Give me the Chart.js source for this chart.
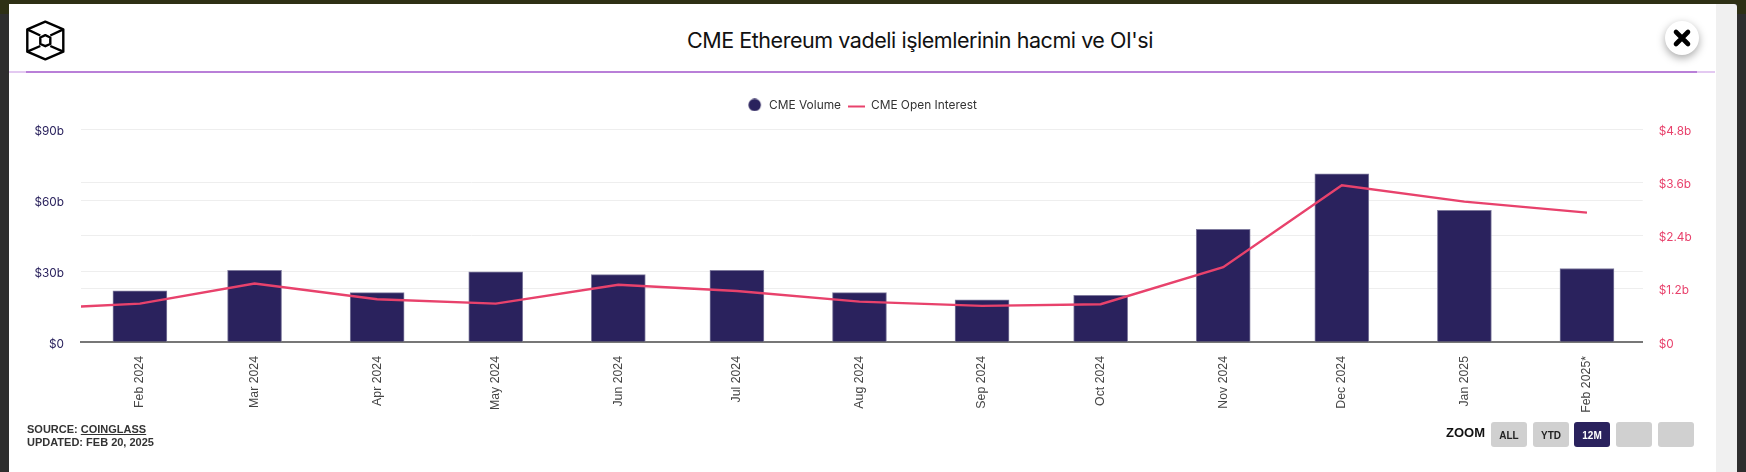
<!DOCTYPE html>
<html lang="tr">
<head>
<meta charset="utf-8">
<title>CME Ethereum</title>
<script src="https://cdn.jsdelivr.net/npm/chart.js@4"></script>
<style>
html,body{margin:0;padding:0;width:1746px;height:472px;overflow:hidden;background:#2e2e2e;font-family:"Liberation Sans",Arial,sans-serif}
.a{position:absolute}
#band{left:0;top:0;width:1746px;height:4px;background:#2e3015}
#bandL{left:0;top:4px;width:9px;height:10px;background:#2e3015}
#bandR{left:1737px;top:4px;width:9px;height:10px;background:#2e3015}
#panel{left:9px;top:4px;width:1707px;height:468px;background:#fff}
#scroll{left:1716px;top:4px;width:21px;height:468px;background:#f0f0f0;border-top-right-radius:3px}
#rule{left:26px;top:71px;width:1671px;height:2px;background:#b97fd8}
#ruleL{left:9px;top:71px;width:17px;height:2px;background:#e3c9f1}
#ruleR{left:1697px;top:71px;width:18px;height:2px;background:#e3c9f1}
#title{left:687px;top:25px;font:400 21.5px/30px Inter,sans-serif;letter-spacing:-.45px;color:#111;white-space:nowrap}
#logo{left:26px;top:20px}
#close{left:1665px;top:21px;width:34px;height:34px;border-radius:50%;background:#fff;box-shadow:0 3px 9px rgba(0,0,0,.35)}
#src{left:27px;top:423px;font:700 11px/13px "Liberation Sans",Arial,sans-serif;color:#333;white-space:nowrap}
#src u{text-decoration:underline}
#zoomL{left:1446px;top:425px;font:700 13px/16px "Liberation Sans",Arial,sans-serif;color:#111}
.btn{top:422px;width:36px;height:25px;border-radius:3px;background:#d0d0d0;color:#222;font:700 10px/27px "Liberation Sans",Arial,sans-serif;text-align:center}
.btn.on{background:#2a225d;color:#fff}
#c{left:0;top:0}
</style>
</head>
<body>
<div class="a" id="band"></div><div class="a" id="bandL"></div><div class="a" id="bandR"></div>
<div class="a" id="panel"></div><div class="a" id="scroll"></div>
<div class="a" id="rule"></div><div class="a" id="ruleL"></div><div class="a" id="ruleR"></div>
<div class="a" id="title">CME Ethereum vadeli işlemlerinin hacmi ve OI'si</div>
<svg class="a" id="logo" width="40" height="42" viewBox="0 0 40 42" fill="none" stroke="#000" stroke-width="2.4" stroke-linejoin="round">
<polygon points="19.3,1.7 37.3,9.3 37.3,31.7 19.3,39.3 1.3,31.7 1.3,9.3"/>
<polygon points="19.3,15.2 24.3,17.5 24.3,24 19.3,26.2 14.3,24 14.3,17.5"/>
<path d="M1.3 9.3L14.3 15.5M37.3 9.3L24.3 15.5M1.3 31.7L14.3 26M37.3 31.7L24.3 26"/>
</svg>
<canvas class="a" id="c" width="1746" height="472"></canvas>
<div class="a" id="close"><svg width="34" height="34" viewBox="0 0 34 34"><path d="M11 11L23 23M23 11L11 23" stroke="#000" stroke-width="4.6" stroke-linecap="round"/></svg></div>
<div class="a" id="src">SOURCE: <u>COINGLASS</u><br>UPDATED: FEB 20, 2025</div>
<div class="a" id="zoomL">ZOOM</div>
<div class="a btn" style="left:1491px">ALL</div>
<div class="a btn" style="left:1533px">YTD</div>
<div class="a btn on" style="left:1574px">12M</div>
<div class="a btn" style="left:1616px"></div>
<div class="a btn" style="left:1658px"></div>
<script>
const barMonths = ['2024-02-01','2024-03-01','2024-04-01','2024-05-01','2024-06-01','2024-07-01','2024-08-01','2024-09-01','2024-10-01','2024-11-01','2024-12-01','2025-01-01','2025-02-01'];
const monthLabels = ['Feb 2024','Mar 2024','Apr 2024','May 2024','Jun 2024','Jul 2024','Aug 2024','Sep 2024','Oct 2024','Nov 2024','Dec 2024','Jan 2025','Feb 2025*'];
const cmeVolume = [21.7,30.3,20.9,29.7,28.5,30.3,20.9,17.9,19.8,47.7,71.2,55.7,31.1];
const oiMonths = ['2024-01-01','2024-02-01','2024-03-01','2024-04-01','2024-05-01','2024-06-01','2024-07-01','2024-08-01','2024-09-01','2024-10-01','2024-11-01','2024-12-01','2025-01-01','2025-02-01'];
const cmeOpenInterest = [0.73,0.867,1.32,0.965,0.867,1.293,1.15,0.912,0.815,0.852,1.69,3.54,3.17,2.92];
const leftTicks = [0,30,60,90];
const leftTickLabels = ['$0','$30b','$60b','$90b'];
const rightTicks = [0,1.2,2.4,3.6,4.8];
const rightTickLabels = ['$0','$1.2b','$2.4b','$3.6b','$4.8b'];
const xStart = '2024-01-17T02:24:00Z';
const xEnd = '2025-02-15T02:24:00Z';
const titleVolume = 'CME Volume';
const titleOI = 'CME Open Interest';

const NAVY = '#2a225d', PINK = '#e8426c';
const day = s => (Date.parse(s) - Date.parse('2024-02-01')) / 864e5;
const barDays = barMonths.map(day);

function swatch(kind){
  const k = document.createElement('canvas'); k.width = 17; k.height = 13;
  const g = k.getContext('2d');
  if (kind === 'dot'){ g.fillStyle = NAVY; g.beginPath(); g.arc(8.5,6.5,6.2,0,7); g.fill(); }
  else { g.strokeStyle = PINK; g.lineWidth = 2; g.beginPath(); g.moveTo(0,8); g.lineTo(17,8); g.stroke(); }
  return k;
}
const swatches = [swatch('dot'), swatch('line')];

const place = {
  id:'place',
  afterLayout(ch){
    const l = ch.legend;
    l.left -= 11.5; l.right -= 11.5;
    const h = l.bottom - l.top; l.top = 92; l.bottom = 92 + h;
  }
};

Chart.defaults.font.family = 'Inter, sans-serif';
new Chart(document.getElementById('c'), {
  data:{
    datasets:[
      {type:'bar', label:titleVolume, data:barDays.map((x,i)=>({x,y:cmeVolume[i]})), yAxisID:'yL', xAxisID:'x',
       backgroundColor:NAVY, borderColor:'#7f7b9e', borderWidth:1, barThickness:54, order:2},
      {type:'line', label:titleOI, data:oiMonths.map((m,i)=>({x:day(m),y:cmeOpenInterest[i]})), yAxisID:'yR', xAxisID:'x',
       borderColor:PINK, backgroundColor:PINK, borderWidth:2.4, pointRadius:0, tension:0, order:1}
    ]
  },
  options:{
    responsive:false, animation:false, devicePixelRatio:1,
    layout:{padding:{top:100.5,left:0,right:0,bottom:0}},
    plugins:{
      tooltip:{enabled:false},
      legend:{position:'top',align:'center',
        labels:{usePointStyle:true,pointStyleWidth:17,padding:7,color:'#333',font:{size:11.9,family:'Inter, sans-serif'},
          generateLabels:ch=>ch.data.datasets.map((d,i)=>({text:d.label,pointStyle:swatches[i],fontColor:'#333',datasetIndex:i,lineWidth:0}))}}
    },
    scales:{
      x:{type:'linear',position:'bottom',offset:false,min:day(xStart),max:day(xEnd),
        afterFit:s=>{s.height=130},
        afterBuildTicks:s=>{s.ticks=barDays.map(value=>({value}))},
        grid:{display:false,offset:false},
        border:{color:'#777',width:2},
        ticks:{autoSkip:false,maxRotation:90,minRotation:90,padding:6,color:'#444',
          font:{family:'"Liberation Sans"',size:12.3},
          callback:v=>monthLabels[barDays.indexOf(v)]}},
      yL:{type:'linear',position:'left',min:0,max:90,
        afterFit:s=>{s.width=81},
        afterBuildTicks:s=>{s.ticks=leftTicks.map(value=>({value}))},
        grid:{color:'#eeeeee',drawTicks:false},border:{display:false},
        ticks:{padding:17,labelOffset:2,color:NAVY,font:{size:11.8},callback:v=>leftTickLabels[leftTicks.indexOf(v)]}},
      yR:{type:'linear',position:'right',min:0,max:4.8,
        afterFit:s=>{s.width=103.3},
        afterBuildTicks:s=>{s.ticks=rightTicks.map(value=>({value}))},
        grid:{color:'#eeeeee',drawTicks:false},border:{display:false},
        ticks:{padding:16,labelOffset:2,color:PINK,font:{size:11.8},callback:v=>rightTickLabels[rightTicks.indexOf(v)]}}
    }
  },
  plugins:[place]
});
</script>
</body>
</html>
